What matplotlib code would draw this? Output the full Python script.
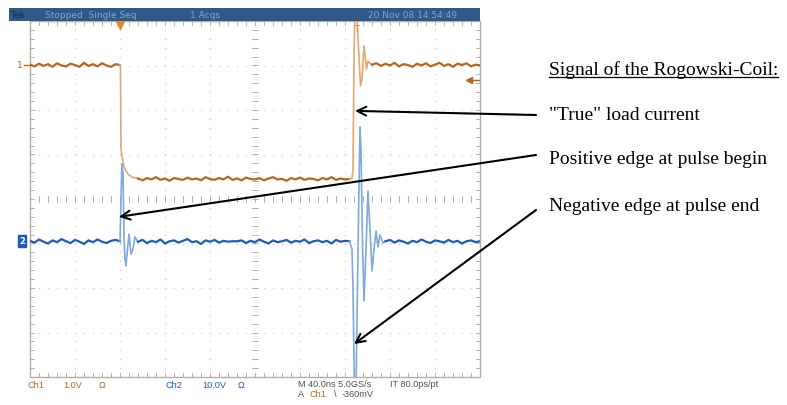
import numpy as np
import matplotlib
matplotlib.use('Agg')
import matplotlib.pyplot as plt
from matplotlib.patches import Rectangle
from matplotlib.lines import Line2D

W, H = 787, 406

# Oszilloskop: 40 ns/div, 10 div horizontal, 8 div vertikal (Werte in div)
t_span = 400.0
step = 4.0

# Ch1 (orange) - Strom
ch1_pre = [3.02, 2.98, 3.04, 2.99, 3.03, 2.97, 3.05, 3.00, 2.98, 3.04, 3.01,
           2.97, 3.06, 2.99, 3.03, 2.98, 3.05, 3.00, 2.97, 3.03, 3.01]          # 0..80 ns
ch1_fall_t = [80.0, 80.4, 80.9, 81.8, 82.7, 84.4, 87.1, 90.7, 96.0]
ch1_fall_v = [3.01, 2.95, 1.12, 0.97, 0.83, 0.67, 0.56, 0.49, 0.46]
ch1_low = [0.46, 0.42, 0.47, 0.44, 0.49, 0.43, 0.46, 0.41, 0.47, 0.45,
           0.43, 0.48, 0.44, 0.46, 0.42, 0.49, 0.45, 0.43, 0.47, 0.44,
           0.50, 0.43, 0.46, 0.42, 0.48, 0.45, 0.44, 0.47, 0.42, 0.46,
           0.49, 0.44, 0.45, 0.41, 0.47, 0.44, 0.48, 0.43, 0.46, 0.45,
           0.42, 0.47, 0.44, 0.49, 0.43, 0.46, 0.44, 0.45]                      # 96..284 ns
ch1_rise_t = [284.0, 286.2, 287.1, 288.0, 288.9, 290.0, 291.6, 293.8, 295.1,
              296.9, 299.1, 300.4, 302.2, 304.0]
ch1_rise_v = [0.45, 0.46, 0.65, 3.15, 4.3, 4.3, 3.6, 2.54, 2.7,
              3.44, 2.92, 3.10, 3.05, 3.02]
ch1_post = [3.02, 3.05, 2.99, 3.04, 3.00, 3.06, 2.98, 3.03, 3.01, 2.97,
            3.04, 3.00, 3.05, 2.98, 3.02, 3.06, 2.99, 3.03, 2.97, 3.04,
            3.01, 3.05, 2.98, 3.02, 3.00]                                       # 304..400 ns

# Ch2 (blau) - Rogowski-Spule
ch2_pre = [-0.94, -0.98, -0.91, -0.96, -1.00, -0.93, -0.97, -0.90, -0.95, -0.99,
           -0.92, -0.96, -1.01, -0.93, -0.97, -0.91, -0.96, -0.99, -0.94, -0.92, -0.95]
ch2_pos_t = [80.0, 80.9, 81.8, 82.7, 83.6, 84.4, 85.3, 86.7, 88.0, 89.8, 91.6, 93.3, 96.0]
ch2_pos_v = [-0.95, 0.0, 0.79, 0.56, -0.90, -1.35, -1.50, -1.12, -0.79, -1.24, -1.12, -0.85, -0.97]
ch2_mid = [-0.96, -0.92, -0.99, -0.94, -0.97, -0.91, -1.00, -0.95, -0.93, -0.98,
           -0.94, -0.90, -0.97, -0.95, -1.01, -0.93, -0.96, -0.92, -0.98, -0.94,
           -0.96, -0.95, -0.95, -0.93, -0.99, -0.94, -0.97, -0.91, -0.96, -1.00,
           -0.93, -0.97, -0.95, -0.92, -0.98, -0.94, -0.96, -0.91, -0.99, -0.95,
           -0.93, -0.97, -0.94, -1.00, -0.92, -0.96, -0.94, -0.95]
ch2_neg_t = [284.0, 286.2, 287.1, 288.4, 289.8, 291.6, 293.3, 294.2, 295.6, 296.9,
             298.7, 300.4, 302.2, 304.0, 305.8, 307.6, 309.3, 311.1, 313.8, 316.0]
ch2_neg_v = [-0.95, -1.12, -2.02, -4.3, -4.3, -1.08, 1.62, 1.12, -1.08, -2.29,
             -1.12, 0.18, -0.67, -1.62, -1.12, -0.72, -1.08, -0.81, -0.99, -0.95]
ch2_post = [-0.95, -0.92, -0.98, -0.93, -0.96, -1.00, -0.94, -0.97, -0.91, -0.96,
            -0.99, -0.93, -0.95, -0.98, -0.92, -0.97, -0.94, -1.00, -0.95, -0.93,
            -0.97, -0.95]

labels = ['Signal of the Rogowski-Coil:', '"True" load current',
          'Positive edge at pulse begin', 'Negative edge at pulse end']

C1_DARK, C1_LIGHT = '#b5661f', '#e3a774'
C2_DARK, C2_LIGHT = '#1d5bbf', '#7ea9e0'


def px(x, y):
    return x / W, 1 - y / H


def samples(start, vals):
    return start + step * np.arange(len(vals))


fig = plt.figure(figsize=(W / 100, H / 100), dpi=100)
ax = fig.add_axes([30 / W, 28 / H, 450 / W, 356 / H])
ax.set_xlim(0, t_span)
ax.set_ylim(-4, 4)
ax.axis('off')

# Raster
dot_c = '#cfcfcf'
for tx in np.arange(40, 400, 40):
    vv = np.arange(-4, 4.01, 0.2)
    ax.scatter(np.full_like(vv, tx), vv, s=1.0, color=dot_c, lw=0, zorder=1)
for vy in range(-3, 4):
    tt = np.arange(0, 400.1, 8)
    ax.scatter(tt, np.full_like(tt, vy), s=1.0, color=dot_c, lw=0, zorder=1)
tick_c = '#b4b4b4'
for tt in np.arange(8, 400, 8):
    ax.plot([tt, tt], [-0.06, 0.06], color=tick_c, lw=0.7, zorder=1)
    ax.plot([tt, tt], [-4, -3.9], color=tick_c, lw=0.7, zorder=1)
    ax.plot([tt, tt], [3.9, 4], color=tick_c, lw=0.7, zorder=1)
for vv in np.arange(-3.8, 4, 0.2):
    ax.plot([197.5, 202.5], [vv, vv], color=tick_c, lw=0.7, zorder=1)
    ax.plot([0, 3.5], [vv, vv], color=tick_c, lw=0.7, zorder=1)
    ax.plot([396.5, 400], [vv, vv], color=tick_c, lw=0.7, zorder=1)
ax.add_patch(Rectangle((0, -4), 400, 8, fill=False, ec='#b3aea4', lw=1.0, zorder=1, clip_on=False))

# Kurven
ax.plot(samples(0, ch1_pre), ch1_pre, color=C1_DARK, lw=1.6, zorder=3)
ax.plot(ch1_fall_t, ch1_fall_v, color=C1_LIGHT, lw=1.2, zorder=3)
ax.plot(samples(96, ch1_low), ch1_low, color=C1_DARK, lw=1.6, zorder=3)
ax.plot(ch1_rise_t, ch1_rise_v, color=C1_LIGHT, lw=1.2, zorder=3)
ax.plot(samples(304, ch1_post), ch1_post, color=C1_DARK, lw=1.6, zorder=3)

ax.plot(samples(0, ch2_pre), ch2_pre, color=C2_DARK, lw=1.6, zorder=3)
ax.plot(ch2_pos_t, ch2_pos_v, color=C2_LIGHT, lw=1.2, zorder=3)
ax.plot(samples(96, ch2_mid), ch2_mid, color=C2_DARK, lw=1.6, zorder=3)
ax.plot(ch2_neg_t, ch2_neg_v, color=C2_LIGHT, lw=1.2, zorder=3)
ax.plot(samples(316, ch2_post), ch2_post, color=C2_DARK, lw=1.6, zorder=3)

# Trigger-Marker
ax.plot([80], [3.9], marker='v', ms=6, color='#e08a2a', clip_on=False, zorder=4)
ax.text(290, 3.93, 'T', fontsize=6, color='#c58a50', ha='center', va='top', zorder=4)
ax.plot([389, 400], [2.67, 2.67], color=C1_DARK, lw=1.0, zorder=4)
ax.plot([390], [2.67], marker='<', ms=4, color=C1_DARK, zorder=4)

# Kanal-Marker links
fig.text(*px(20, 66), '1', fontsize=6.5, color=C1_DARK, ha='center', va='center')
fig.add_artist(Line2D([24 / W, 30 / W], [1 - 66 / H] * 2, color=C1_DARK, lw=1.0))
fig.text(*px(22, 242), '2', fontsize=6, color='white', ha='center', va='center',
         fontweight='bold',
         bbox=dict(boxstyle='square,pad=0.15', fc=C2_DARK, ec=C2_DARK))

# Kopfzeile
fig.add_artist(Rectangle(px(9, 22), 471 / W, 13 / H, transform=fig.transFigure,
                         fc='#2d5a88', ec='none'))
hc = '#8aa4c6'
fig.text(*px(10, 15.5), 'Tek', fontsize=6.5, color='#162a55', va='center')
fig.text(*px(45, 15.5), 'Stopped  Single Seq', fontsize=6.5, color=hc, va='center')
fig.text(*px(190, 15.5), '1 Acqs', fontsize=6.5, color=hc, va='center')
fig.text(*px(368, 15.5), '20 Nov 08 14:54:49', fontsize=6.5, color=hc, va='center')

# Fusszeile
fs = 6.6
ff = 'Liberation Sans'
fig.text(*px(28, 386), 'Ch1', fontsize=fs, color=C1_DARK, va='center', family=ff)
fig.text(*px(63, 386), '1.0V', fontsize=fs, color=C1_DARK, va='center', family=ff)
fig.text(*px(99, 386), 'Ω', fontsize=fs, color=C1_DARK, va='center', family=ff)
fig.text(*px(165, 386), 'Ch2', fontsize=fs, color=C2_DARK, va='center', family=ff)
fig.text(*px(202, 386), '10.0V', fontsize=fs, color=C2_DARK, va='center', family=ff)
fig.text(*px(238, 386), 'Ω', fontsize=fs, color=C2_DARK, va='center', family=ff)
fig.text(*px(298, 385), 'M 40.0ns 5.0GS/s', fontsize=fs, color='#505050', va='center', family=ff)
fig.text(*px(390, 385), 'IT 80.0ps/pt', fontsize=fs, color='#505050', va='center', family=ff)
fig.text(*px(298, 395), 'A', fontsize=fs, color='#505050', va='center', family=ff)
fig.text(*px(310, 395), 'Ch1', fontsize=fs, color=C1_DARK, va='center', family=ff)
fig.text(*px(334, 395), '\\', fontsize=fs, color='#505050', va='center', family=ff)
fig.text(*px(342, 395), '-360mV', fontsize=fs, color='#505050', va='center', family=ff)

# Beschriftung rechts
serif = 'Liberation Serif'
ys = [70, 115, 159, 207]
txts = []
for lab, y in zip(labels, ys):
    txts.append(fig.text(*px(549, y), lab, fontsize=14, family=serif,
                         color='black', va='center'))

# Pfeile
tips = [(288.9, 1.98), (79.1, -0.40), (288.0, -3.26)]
tails = [(536, 116), (536, 156), (536, 211)]
for (tx, tv), (x0, y0) in zip(tips, tails):
    ax.annotate('', xy=(tx, tv), xycoords='data',
                xytext=(x0, H - y0), textcoords='figure pixels',
                arrowprops=dict(arrowstyle='->', lw=1.5, color='black',
                                shrinkA=0, shrinkB=0, mutation_scale=16),
                annotation_clip=False)

# Unterstreichung der Ueberschrift
fig.canvas.draw()
bb = txts[0].get_window_extent()
uy = bb.y0 + 1
fig.add_artist(Line2D([bb.x0 / W, bb.x1 / W], [uy / H, uy / H], color='black', lw=0.9))

fig.savefig('out.png', dpi=100)
